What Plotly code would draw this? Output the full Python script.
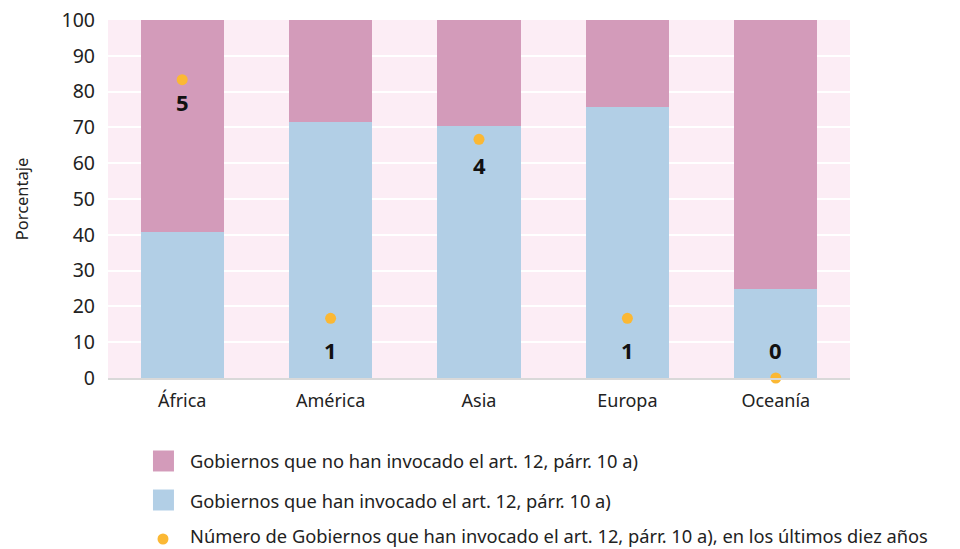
import plotly.graph_objects as go

# Data: share of governments by region and number of invocations in the last ten years
regions = ["África", "América", "Asia", "Europa", "Oceanía"]
invoked_pct = [40.7, 71.4, 70.5, 75.6, 25.0]
not_invoked_pct = [round(100 - v, 1) for v in invoked_pct]
recent_invocations = [5, 1, 4, 1, 0]

name_not = "Gobiernos que no han invocado el art. 12, párr. 10 a)"
name_yes = "Gobiernos que han invocado el art. 12, párr. 10 a)"
name_dots = "Número de Gobiernos que han invocado el art. 12, párr. 10 a), en los últimos diez años"

PINK = "#d39bba"
BLUE = "#b2cfe6"
GOLD = "#fbb834"
FONT = "'Noto Sans', 'Open Sans', sans-serif"

fig = go.Figure()
fig.add_trace(go.Bar(x=regions, y=invoked_pct, name=name_yes, marker_color=BLUE,
                     marker_line_width=0, width=0.56))
fig.add_trace(go.Bar(x=regions, y=not_invoked_pct, name=name_not, marker_color=PINK,
                     marker_line_width=0, width=0.56))
fig.add_trace(go.Scatter(x=regions, y=recent_invocations, yaxis="y2", mode="markers",
                         name=name_dots, marker=dict(color=GOLD, size=11),
                         cliponaxis=False))

# value labels next to each dot (vertical pixel offsets per region)
label_shift = [-22, -32, -26, -32, 28]
annotations = []
for r, v, s in zip(regions, recent_invocations, label_shift):
    annotations.append(dict(x=r, y=v, xref="x", yref="y2", text=f"<b>{v}</b>",
                            showarrow=False, yshift=s,
                            font=dict(size=22, color="#111111", family=FONT)))

# hand-built legend below the plot
legend_rows = [(-0.2318, "square", PINK, name_not),
               (-0.3408, "square", BLUE, name_yes),
               (-0.4497, "dot", GOLD, name_dots)]
shapes = []
for y, kind, col, label in legend_rows:
    if kind == "square":
        shapes.append(dict(type="rect", xref="paper", yref="paper",
                           x0=0.0606, x1=0.0889, y0=y - 0.0293, y1=y + 0.0293,
                           fillcolor=col, line_width=0))
    else:
        shapes.append(dict(type="circle", xref="paper", yref="paper",
                           x0=0.0741 - 0.0074, x1=0.0741 + 0.0074,
                           y0=y - 0.0154, y1=y + 0.0154,
                           fillcolor=col, line_width=0))
    annotations.append(dict(x=0.1095, y=y, xref="paper", yref="paper", text=label,
                            showarrow=False, xanchor="left", yanchor="middle",
                            yshift=3 if kind == "dot" else 0, borderpad=0,
                            font=dict(size=18.3, color="#222222", family=FONT)))

fig.update_layout(
    width=960, height=549,
    margin=dict(l=108, r=110, t=20, b=171, autoexpand=False),
    barmode="stack",
    bargap=0.44,
    paper_bgcolor="white",
    plot_bgcolor="#fcedf5",
    showlegend=False,
    font=dict(family=FONT, size=18, color="#222222"),
    xaxis=dict(showgrid=False, showline=True, linecolor="#d9d9d9", linewidth=2,
               ticks="", tickfont=dict(size=18), ticklabelstandoff=5,
               automargin=False),
    yaxis=dict(range=[0, 100], dtick=10, showgrid=True, gridcolor="white",
               gridwidth=2, zeroline=False, ticks="", tickfont=dict(size=19.5),
               ticklabelstandoff=12, automargin=False,
               title=dict(text="Porcentaje", font=dict(size=16.5), standoff=28)),
    yaxis2=dict(range=[0, 6], overlaying="y", side="right", visible=False),
    shapes=shapes,
    annotations=annotations,
)

fig.write_html("out.html")
